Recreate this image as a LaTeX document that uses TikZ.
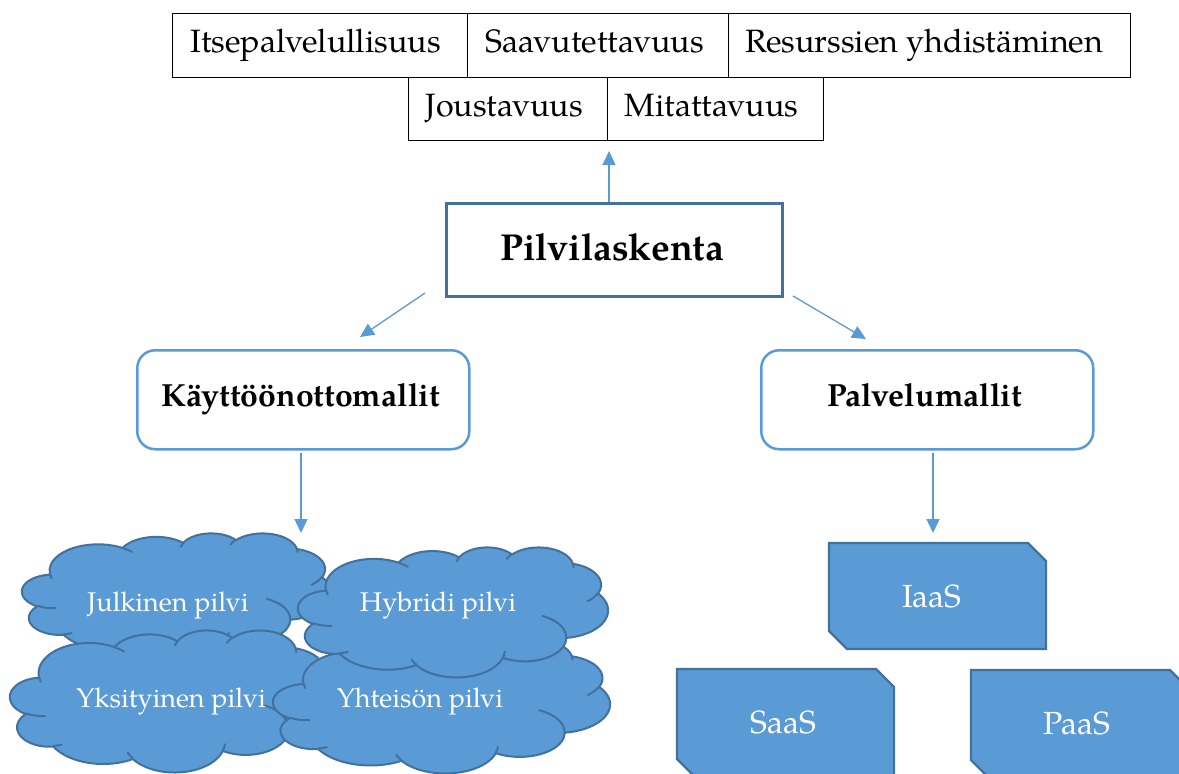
\documentclass[tikz,border=0pt]{standalone}
\usepackage{fontspec}
\setmainfont{TeX Gyre Pagella}
\usetikzlibrary{arrows.meta}
\definecolor{acc}{HTML}{5B9BD5}
\definecolor{accd}{HTML}{41719C}
% Office-style cloud arc: wR hR stAng swAng (visual angles, y down)
\newcommand\oarc[4]{arc[start angle={-atan2((#1)*sin(#3),(#2)*cos(#3))},
  end angle={-(atan2((#1)*sin(#3),(#2)*cos(#3))+mod(atan2((#1)*sin((#3)+(#4)),(#2)*cos((#3)+(#4)))-atan2((#1)*sin(#3),(#2)*cos(#3))+720,360))},
  x radius={(#1)*\sx*1pt}, y radius={(#2)*\sy*1pt}]}
\newcommand\officecloud[4]{%
  \begin{scope}[shift={(#1,#2)}]
  \pgfmathsetmacro\sx{#3/432}\pgfmathsetmacro\sy{#4/432}
  \filldraw[cloudshape] ({39.00*\sx},{143.70*\sy})
    \oarc{67.53}{91.90}{-190.48748}{123.78053}
    \oarc{53.33}{72.67}{-144.10238}{89.94523}
    \oarc{43.65}{59.45}{-145.80792}{99.72302}
    \oarc{48.57}{65.95}{-130.98607}{117.24173}
    \oarc{53.33}{72.73}{-78.70888}{109.02692}
    \oarc{67.75}{92.20}{-46.26725}{130.26900}
    \oarc{57.85}{78.67}{0.62502}{114.03333}
    \oarc{67.52}{92.15}{22.45160}{115.17255}
    \oarc{77.20}{105.43}{66.24263}{75.71102}
    \oarc{43.60}{59.18}{-274.94208}{146.73557}
    \oarc{43.45}{59.45}{-246.82850}{152.51885} -- cycle;
  \draw[cloudline] ({46.93*\sx},{261.77*\sy}) \oarc{43.45}{59.45}{86.742}{26.4295};
  \draw[cloudline] ({69.28*\sx},{348.99*\sy}) \oarc{43.60}{59.18}{73.61047}{11.44747};
  \draw[cloudline] ({164.78*\sx},{390.90*\sy}) \oarc{67.52}{92.15}{137.62415}{14.0811};
  \draw[cloudline] ({288.27*\sx},{347.51*\sy}) \oarc{67.52}{92.15}{6.45327}{15.99835};
  \draw[cloudline] ({341.29*\sx},{229.54*\sy}) \oarc{57.85}{78.67}{-70.29235}{70.91737};
  \draw[cloudline] ({417.98*\sx},{153.54*\sy}) \oarc{53.33}{72.73}{30.31803}{27.7515};
  \draw[cloudline] ({383.24*\sx},{54.26*\sy}) \oarc{48.57}{65.95}{-13.74433}{14.86037};
  \draw[cloudline] ({290.78*\sx},{39.52*\sy}) \oarc{48.57}{65.95}{-149.18145}{18.1868};
  \draw[cloudline] ({221.41*\sx},{47.20*\sy}) \oarc{43.65}{59.45}{-163.49427}{17.68635};
  \draw[cloudline] ({140.00*\sx},{51.92*\sy}) \oarc{67.53}{91.90}{-66.70695}{12.31935};
  \draw[cloudline] ({41.27*\sx},{157.89*\sy}) \oarc{67.53}{91.90}{157.65435}{11.85817};
  \end{scope}}
\newcommand\lft[2]{#2\hspace*{#1pt}}
\begin{document}
\begin{tikzpicture}[x=1pt,y=-1pt,
  topbox/.style={draw=black, line width=1.3pt, minimum height=64pt, anchor=north west,
    inner sep=0pt, text height=21pt, text depth=7pt, font=\fontsize{32.3}{36}\selectfont},
  arr/.style={draw=acc, line width=1.3pt, -{Triangle[length=14pt,width=13pt]}},
  mainbox/.style={draw=accd, line width=3pt, fill=white, minimum width=336pt, minimum height=93pt,
    anchor=north west, inner sep=0pt, text height=27pt, text depth=6pt,
    font=\bfseries\fontsize{37.5}{42}\selectfont},
  modelbox/.style={draw=acc, line width=2.5pt, rounded corners=18pt, fill=white, minimum width=332pt,
    minimum height=99pt, anchor=north west, inner sep=0pt, text height=23pt, text depth=9pt,
    font=\bfseries\fontsize{32}{36}\selectfont},
  cloudshape/.style={draw=accd, fill=acc, line width=2pt, line join=round},
  cloudline/.style={draw=accd, line width=2pt, line cap=round},
  cloudtext/.style={text=white, inner sep=0pt, anchor=base, font=\fontsize{27}{30}\selectfont},
  snipshape/.style={draw=accd, fill=acc, line width=2.2pt, line join=miter},
  sniptext/.style={text=white, inner sep=0pt, font=\fontsize{32}{36}\selectfont}
]
\useasboundingbox (0,0) rectangle (1179,774);
\fill[white] (0,0) rectangle (1179,774);
\clip (0,0) rectangle (1179,774);

% top characteristic boxes
\node[topbox, minimum width=295pt] (itse) at (172,13) {\lft{9}{Itsepalvelullisuus}};
\node[topbox, minimum width=261pt] (saav) at (467,13) {\lft{7}{Saavutettavuus}};
\node[topbox, minimum width=402pt] (resu) at (728,13) {\lft{11}{Resurssien yhdistäminen}};
\node[topbox, minimum width=199pt, minimum height=63pt] (jous) at (408,77) {\lft{8}{Joustavuus}};
\node[topbox, minimum width=216pt, minimum height=63pt] (mita) at (607,77) {\lft{8}{Mitattavuus}};

% main boxes
\node[mainbox] (pilvi) at (445,202) {\lft{4}{Pilvilaskenta}};
\node[modelbox] (kayt) at (136,349) {\lft{5}{Käyttöönottomallit}};
\node[modelbox] (palv) at (760,349) {\lft{5}{Palvelumallit}};

% connectors
\coordinate (upS) at (609,202);
\coordinate (upE) at (609,151);
\coordinate (lS) at (425,293);
\coordinate (lE) at (360,337);
\coordinate (rS) at (793,296);
\coordinate (rE) at (866,339);
\coordinate (dlS) at (301,453);
\coordinate (dlE) at (301,533);
\coordinate (drS) at (933,453);
\coordinate (drE) at (933,533);
\draw[arr] (upS) -- (upE);
\draw[arr] (lS) -- (lE);
\draw[arr] (rS) -- (rE);
\draw[arr] (dlS) -- (dlE);
\draw[arr] (drS) -- (drE);

% clouds (deployment models)
\officecloud{22}{533}{310}{124}
\officecloud{10}{630}{322}{142}
\officecloud{273}{639}{337}{134}
\officecloud{298}{547}{310}{130}
\node[cloudtext] (julk) at (168,611) {Julkinen pilvi};
\node[cloudtext] (hybr) at (438,611) {Hybridi pilvi};
\node[cloudtext] (yksi) at (171,707) {Yksityinen pilvi};
\node[cloudtext] (yhte) at (420,707) {Yhteisön pilvi};

% snipped rectangles (service models)
\filldraw[snipshape] (829,543) -- (1028,543) -- (1046,561) -- (1046,649) -- (847,649) -- (829,631) -- cycle;
\filldraw[snipshape] (677,669) -- (876,669) -- (894,687) -- (894,777) -- (695,777) -- (677,759) -- cycle;
\filldraw[snipshape] (971,670) -- (1170,670) -- (1188,688) -- (1188,778) -- (989,778) -- (971,760) -- cycle;
\node[sniptext] (iaas) at (932,596) {IaaS};
\node[sniptext] (saas) at (783,722) {SaaS};
\node[sniptext] (paas) at (1077,723) {PaaS};
\end{tikzpicture}
\end{document}
